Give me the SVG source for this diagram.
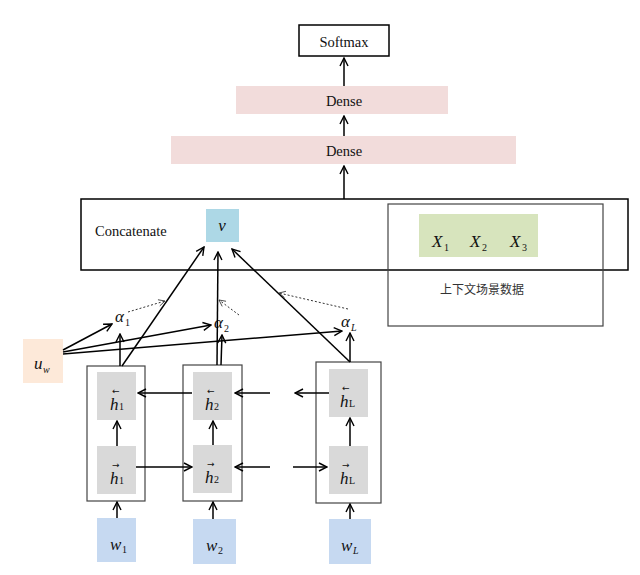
<svg xmlns="http://www.w3.org/2000/svg" width="640" height="575" viewBox="0 0 640 575">
<defs>
<marker id="ah" viewBox="0 0 10 10" refX="9" refY="5" markerWidth="10" markerHeight="10" markerUnits="userSpaceOnUse" orient="auto">
<path d="M1,1 L9,5 L1,9" fill="none" stroke="#000" stroke-width="1.4"/>
</marker>
<marker id="ahd" viewBox="0 0 10 10" refX="9" refY="5" markerWidth="8" markerHeight="8" markerUnits="userSpaceOnUse" orient="auto">
<path d="M1,1 L9,5 L1,9" fill="none" stroke="#333" stroke-width="1"/>
</marker>
<style>
.box{fill:#fff;stroke:#000;stroke-width:1.5}
.thin{fill:#fff;stroke:#444;stroke-width:1.2}
.dense{fill:#f2dcdb}
.gray{fill:#d9d9d9}
.wbox{fill:#c6d9f1}
.t{font-family:"Liberation Serif",serif;font-size:14.5px;fill:#111}
.m{font-family:"Liberation Serif",serif;font-style:italic;font-size:17px;fill:#111}
.sub{font-family:"Liberation Serif",serif;font-size:10px;fill:#111}
.arr{font-family:"DejaVu Sans",sans-serif;font-size:9px;fill:#111}
.cjk{font-family:"Noto Sans CJK SC",sans-serif;font-size:12px;fill:#333}
.c{fill:none;stroke:#000;stroke-width:1.5;marker-end:url(#ah)}
.d{fill:none;stroke:#333;stroke-width:1;stroke-dasharray:2,2;marker-end:url(#ahd)}
</style>
</defs>
<rect width="640" height="575" fill="#fff"/>
<g id="softmax"><rect class="box" x="299" y="25" width="90" height="31"/><text class="t" x="344" y="47" text-anchor="middle">Softmax</text></g>
<g id="dense1"><rect class="dense" x="236" y="86" width="212" height="28"/><text class="t" x="344" y="106" text-anchor="middle">Dense</text></g>
<g id="dense2"><rect class="dense" x="171" y="136" width="345" height="28"/><text class="t" x="344" y="156" text-anchor="middle">Dense</text></g>
<g id="concatenate"><rect class="box" x="81" y="199" width="547" height="71" fill="none"/><text class="t" x="95" y="236">Concatenate</text></g>
<g id="v"><rect x="206" y="209" width="33" height="33" fill="#add8e6"/><text class="m" x="222" y="231" text-anchor="middle">v</text></g>
<g id="context"><rect x="388" y="204" width="215" height="122" fill="none" stroke="#444" stroke-width="1.2"/>
<rect x="419" y="214" width="119" height="43" fill="#d7e4bd"/>
<text class="m" x="432" y="247">X</text><text class="sub" x="444" y="251">1</text>
<text class="m" x="470" y="247">X</text><text class="sub" x="482" y="251">2</text>
<text class="m" x="510" y="247">X</text><text class="sub" x="522" y="251">3</text>
<text class="cjk" x="482" y="294" text-anchor="middle">上下文场景数据</text></g>
<g id="uw"><rect x="23" y="339" width="40" height="44" fill="#fde9d9"/><text class="m" x="34" y="369">u</text><text class="sub" x="43" y="373" font-style="italic">w</text></g>
<g id="alpha1"><text class="m" x="115" y="322">α</text><text class="sub" x="125" y="326">1</text></g>
<g id="alpha2"><text class="m" x="214" y="328">α</text><text class="sub" x="224" y="332">2</text></g>
<g id="alphaL"><text class="m" x="341" y="327">α</text><text class="sub" x="351" y="331" font-style="italic">L</text></g>
<g id="col1"><rect class="thin" x="87" y="366" width="58" height="135"/>
<rect class="gray" x="97" y="372" width="39" height="48"/><rect class="gray" x="97" y="446" width="39" height="48"/>
<text class="arr" x="112" y="394">←</text><text class="m" x="110" y="410">h</text><text class="sub" x="119" y="410">1</text>
<text class="arr" x="112" y="468">→</text><text class="m" x="110" y="484">h</text><text class="sub" x="119" y="484">1</text></g>
<g id="col2"><rect class="thin" x="183" y="365" width="59" height="136"/>
<rect class="gray" x="193" y="372" width="39" height="48"/><rect class="gray" x="193" y="445" width="39" height="48"/>
<text class="arr" x="207" y="394">←</text><text class="m" x="205" y="410">h</text><text class="sub" x="214" y="410">2</text>
<text class="arr" x="207" y="467">→</text><text class="m" x="205" y="483">h</text><text class="sub" x="214" y="483">2</text></g>
<g id="colL"><rect class="thin" x="316" y="362" width="65" height="141"/>
<rect class="gray" x="329" y="369" width="39" height="48"/><rect class="gray" x="329" y="446" width="39" height="48"/>
<text class="arr" x="342" y="391">←</text><text class="m" x="340" y="407">h</text><text class="sub" x="349" y="407">L</text>
<text class="arr" x="342" y="468">→</text><text class="m" x="340" y="484">h</text><text class="sub" x="349" y="484">L</text></g>
<g id="w1"><rect class="wbox" x="97" y="518" width="39" height="44"/><text class="m" x="110" y="550">w</text><text class="sub" x="122" y="553">1</text></g>
<g id="w2"><rect class="wbox" x="193" y="519" width="43" height="45"/><text class="m" x="206" y="551">w</text><text class="sub" x="218" y="554">2</text></g>
<g id="wL"><rect class="wbox" x="329" y="519" width="42" height="45"/><text class="m" x="341" y="551">w</text><text class="sub" x="353" y="554" font-style="italic">L</text></g>
<g id="connectors">
<line class="c" x1="344" y1="86" x2="344" y2="58"/>
<line class="c" x1="344" y1="136" x2="344" y2="116"/>
<line class="c" x1="344" y1="199" x2="344" y2="166"/>
<line class="c" x1="117" y1="518" x2="117" y2="502"/>
<line class="c" x1="213" y1="519" x2="213" y2="502"/>
<line class="c" x1="350" y1="519" x2="350" y2="504"/>
<line class="c" x1="117" y1="446" x2="117" y2="421"/>
<line class="c" x1="213" y1="445" x2="213" y2="421"/>
<line class="c" x1="350" y1="446" x2="350" y2="418"/>
<line class="c" x1="136" y1="467" x2="192" y2="467"/>
<line class="c" x1="270" y1="467" x2="235" y2="467"/>
<line class="c" x1="293" y1="467" x2="327" y2="467"/>
<line class="c" x1="329" y1="393" x2="295" y2="393"/>
<line class="c" x1="270" y1="393" x2="235" y2="393"/>
<line class="c" x1="192" y1="393" x2="138" y2="393"/>
<line class="c" x1="120" y1="366" x2="120" y2="334"/>
<line class="c" x1="221" y1="365" x2="222" y2="335"/>
<line class="c" x1="350" y1="362" x2="350" y2="333"/>
<line class="c" x1="122" y1="366" x2="204" y2="247"/>
<line class="c" x1="217" y1="365" x2="218" y2="252"/>
<line class="c" x1="350" y1="362" x2="232" y2="249"/>
<line class="c" x1="63" y1="350" x2="112" y2="324"/>
<line class="c" x1="63" y1="352" x2="211" y2="325"/>
<line class="c" x1="63" y1="354" x2="342" y2="331"/>
<line class="d" x1="128" y1="312" x2="165" y2="301"/>
<line class="d" x1="239" y1="315" x2="219" y2="300"/>
<line class="d" x1="348" y1="309" x2="279" y2="293"/>
</g>
</svg>
